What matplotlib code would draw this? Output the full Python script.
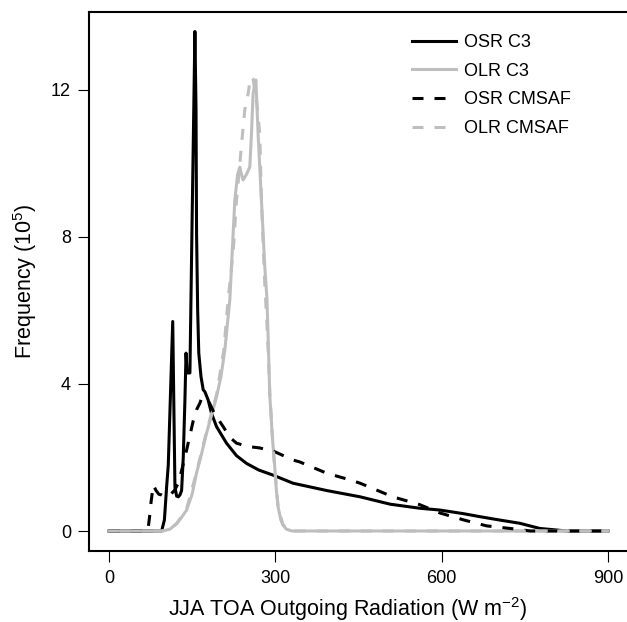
import matplotlib
matplotlib.use("Agg")
import matplotlib.pyplot as plt

plt.rcParams['font.family'] = ['Liberation Sans', 'DejaVu Sans']
plt.rcParams['mathtext.fontset'] = 'custom'
plt.rcParams['mathtext.rm'] = 'Liberation Sans'
plt.rcParams['mathtext.it'] = 'Liberation Sans'
plt.rcParams['mathtext.default'] = 'regular'

# OSR C3 (black solid)
osr_c3_x = [0, 95, 100, 104, 107, 115, 119, 122, 125, 128, 131, 134, 137, 139, 141, 146,
            150, 153, 155, 157, 158, 160, 162, 166, 170, 173, 179, 185, 194, 212, 230, 248,
            270, 296, 332, 393, 453, 507, 560, 597, 640, 669, 700, 741, 777, 826, 900]
osr_c3_y = [0, 0, 0.3, 1.2, 1.8, 5.7, 1.2, 0.95, 0.93, 0.98, 1.1, 2.0, 3.56, 4.84, 4.3, 4.3,
            8.5, 11.5, 13.59, 11.5, 8.1, 6.0, 4.84, 4.2, 3.84, 3.79, 3.56, 3.2, 2.84, 2.39, 2.05, 1.84,
            1.66, 1.52, 1.3, 1.1, 0.93, 0.73, 0.62, 0.57, 0.47, 0.39, 0.31, 0.21, 0.07, 0.0, 0]

# OLR C3 (grey solid)
olr_c3_x = [0, 97, 110, 122, 130, 140, 150, 158, 167, 176, 185, 194, 202, 209, 218, 227,
            232, 236, 239, 242, 248, 254, 257, 260, 263, 265, 269, 275, 281, 285, 288, 290,
            295, 299, 302, 305, 310, 314, 320, 330, 900]
olr_c3_y = [0, 0, 0.05, 0.2, 0.35, 0.57, 1.0, 1.58, 2.1, 2.66, 3.15, 3.65, 4.2, 4.93, 6.29, 9.0,
            9.7, 9.9, 9.7, 9.55, 9.7, 9.9, 10.8, 11.9, 12.15, 12.27, 10.8, 9.0, 7.2, 6.3, 4.8, 3.7,
            2.5, 1.75, 1.1, 0.66, 0.3, 0.16, 0.05, 0, 0]

# OSR CMSAF (black dashed)
osr_cm_x = [0, 70, 73, 76, 80, 85, 90, 95, 101, 110, 118, 125, 132, 140, 146, 152, 158, 164,
            167, 172, 179, 190, 206, 218, 230, 250, 272, 300, 332, 344, 393, 435, 453, 512,
            560, 597, 640, 681, 735, 760, 900]
osr_cm_y = [0, 0, 0.35, 0.8, 1.25, 1.1, 1.0, 0.98, 0.93, 0.98, 1.1, 1.3, 1.7, 2.2, 2.6, 3.0, 3.3, 3.48,
            3.61, 3.62, 3.56, 3.2, 2.84, 2.55, 2.39, 2.3, 2.26, 2.15, 1.93, 1.88, 1.57, 1.39, 1.3, 0.93,
            0.72, 0.49, 0.3, 0.14, 0.05, 0, 0]

# OLR CMSAF (grey dashed)
olr_cm_x = [0, 95, 110, 122, 140, 158, 176, 194, 207, 215, 224, 230, 235, 239, 245, 251, 254,
            257, 260, 263, 267, 272, 275, 281, 285, 288, 290, 295, 299, 305, 314, 330, 900]
olr_cm_y = [0, 0, 0.05, 0.2, 0.6, 1.6, 2.7, 3.7, 4.9, 6.3, 7.6, 9.0, 9.8, 10.5, 11.46, 11.9, 12.2,
            12.36, 12.3, 12.0, 11.6, 10.8, 9.0, 6.74, 5.6, 4.6, 3.8, 2.5, 1.7, 0.66, 0.16, 0, 0]

x_ticks = [0, 300, 600, 900]
y_ticks = [0, 4, 8, 12]

black = '#000000'
grey = '#BEBEBE'

# plot box in pixels: left 89, top 12, bottom 551; right edge falls outside the image
px_w = 545
px_h = 539
fig = plt.figure(figsize=(6.27, 6.22), dpi=100)
ax = fig.add_axes([89 / 627, 71 / 622, px_w / 627, px_h / 622])

lw = 2.2
ax.plot(osr_c3_x, osr_c3_y, color=black, lw=lw, label='OSR C3', solid_joinstyle='round')
ax.plot(olr_c3_x, olr_c3_y, color=grey, lw=lw, label='OLR C3', solid_joinstyle='round')
ax.plot(osr_cm_x, osr_cm_y, color=black, lw=lw, ls=(0, (3.6, 3.6)), label='OSR CMSAF')
ax.plot(olr_cm_x, olr_cm_y, color=grey, lw=lw, ls=(0, (3.6, 3.6)), label='OLR CMSAF')

# 0 -> x=109 px, 900 -> x=608 px
ax.set_xlim(-36, -36 + px_w * 900 / 499)
ax.set_ylim(-0.544, 14.12)
ax.set_xticks(x_ticks)
ax.set_yticks(y_ticks)
ax.tick_params(direction='out', length=8, width=0.8, labelsize=13, pad=5)
ax.tick_params(axis='x', pad=6)

for s in ax.spines.values():
    s.set_linewidth(1.5)

ax.set_xlabel('JJA TOA Outgoing Radiation (W m$^{-2}$)', fontsize=15.5)
ax.set_ylabel('Frequency (10$^{5}$)', fontsize=15.5)
ax.xaxis.set_label_coords((348 - 89) / px_w, (551 - 609) / px_h)
ax.xaxis.label.set_va('center')
ax.yaxis.set_label_coords((25 - 89) / px_w, 0.5)
ax.yaxis.label.set_va('center')

leg = ax.legend(loc='upper left', bbox_to_anchor=(412 / 627, 1 - 34 / 622),
                bbox_transform=fig.transFigure, frameon=False, fontsize=13,
                handlelength=2.45, handletextpad=0.45, labelspacing=0.65,
                borderpad=0, borderaxespad=0)

fig.savefig('out.png', dpi=100)
